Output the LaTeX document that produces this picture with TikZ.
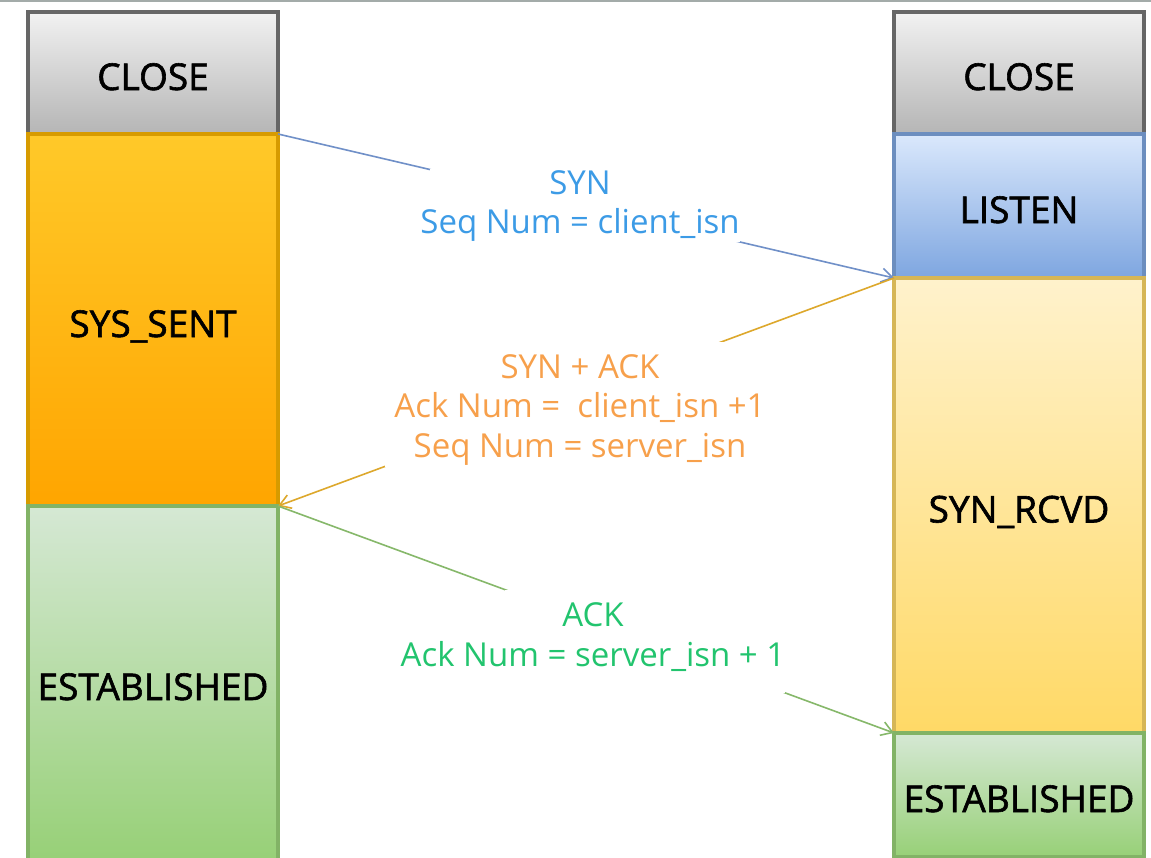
\documentclass[tikz,border=0pt]{standalone}
\usepackage{fontspec}
\setmainfont{Open Sans}
\newfontfamily\statefont{Open Sans}[FakeBold=1.6]
\usetikzlibrary{arrows.meta}
\definecolor{closeTop}{HTML}{F2F2F2}
\definecolor{closeBot}{HTML}{B5B5B5}
\definecolor{closeLine}{HTML}{666666}
\definecolor{sentTop}{HTML}{FFC929}
\definecolor{sentBot}{HTML}{FFA500}
\definecolor{sentLine}{HTML}{D79B00}
\definecolor{estTop}{HTML}{D5E8D4}
\definecolor{estBot}{HTML}{97D077}
\definecolor{estLine}{HTML}{82B366}
\definecolor{lisTop}{HTML}{DAE8FC}
\definecolor{lisBot}{HTML}{7EA6E0}
\definecolor{lisLine}{HTML}{6C8EBF}
\definecolor{rcvTop}{HTML}{FFF2CC}
\definecolor{rcvBot}{HTML}{FFD966}
\definecolor{rcvLine}{HTML}{D6B656}
\definecolor{synText}{HTML}{3C9BE6}
\definecolor{ackText}{HTML}{F7A04B}
\definecolor{finText}{HTML}{22C46E}
\definecolor{synArrow}{HTML}{7090C8}
\definecolor{ackArrow}{HTML}{DDA82C}
\definecolor{finArrow}{HTML}{86B86A}
\definecolor{topRule}{HTML}{A3ABA9}
\begin{document}
\begin{tikzpicture}[x=1pt,y=-1pt,
  state/.style={rectangle, inner sep=0pt, outer sep=0pt, anchor=north west,
    line width=3.2pt, minimum width=250pt, text=black,
    text height=34pt, text depth=0pt,
    font=\fontsize{37}{40}\statefont},
  grey state/.style={state, top color=closeTop, bottom color=closeBot, draw=closeLine},
  sent state/.style={state, top color=sentTop, bottom color=sentBot, draw=sentLine},
  est state/.style={state, top color=estTop, bottom color=estBot, draw=estLine},
  lis state/.style={state, top color=lisTop, bottom color=lisBot, draw=lisLine},
  rcv state/.style={state, top color=rcvTop, bottom color=rcvBot, draw=rcvLine},
  msg/.style={line width=1.6pt, -{Straight Barb[length=11pt,width=14pt]}},
  msgtext/.style={align=center, inner sep=0pt, font=\fontsize{33}{39.5}\selectfont},
  mask/.style={fill=white}
]
\useasboundingbox (0,0) rectangle (1151,857);
\fill[white] (0,0) rectangle (1151,857);
\draw[topRule, line width=2pt] (0,1) -- (1151,1);

% left column
\node[grey state, minimum height=122pt] (lclose) at (28,12) {CLOSE};
\node[sent state, minimum height=372pt] (lsent) at (28,134) {SYS\_SENT};
\node[est state, minimum height=354pt] (lest) at (28,506) {ESTABLISHED};

% right column
\node[grey state, minimum height=122pt] (rclose) at (894,12) {CLOSE};
\node[lis state, minimum height=144pt] (rlisten) at (894,134) {LISTEN};
\node[rcv state, minimum height=455pt] (rrcvd) at (894,278) {SYN\_RCVD};
\node[est state, minimum height=124pt] (rest) at (894,733) {ESTABLISHED};

% connectors
\draw[msg, synArrow] (lclose.south east) -- (rlisten.south west);
\draw[msg, ackArrow] (rrcvd.north west) -- (lsent.south east);
\draw[msg, finArrow] (lest.north east) -- (rest.north west);

% gaps in the connectors behind the labels
\fill[mask] (430,169) rectangle (740,242);
\fill[mask] (385,342) rectangle (725,467);
\fill[mask] (505,590) rectangle (785,693);

% labels
\node[msgtext, text=synText] (synlbl) at (580,206) {SYN\\Seq Num = client\_isn};
\node[msgtext, text=ackText] (synacklbl) at (580,410) {SYN + ACK\\Ack Num = \ client\_isn +1\\Seq Num = server\_isn};
\node[msgtext, text=finText] (acklbl) at (593,637) {ACK\\Ack Num = server\_isn + 1};
\end{tikzpicture}
\end{document}
